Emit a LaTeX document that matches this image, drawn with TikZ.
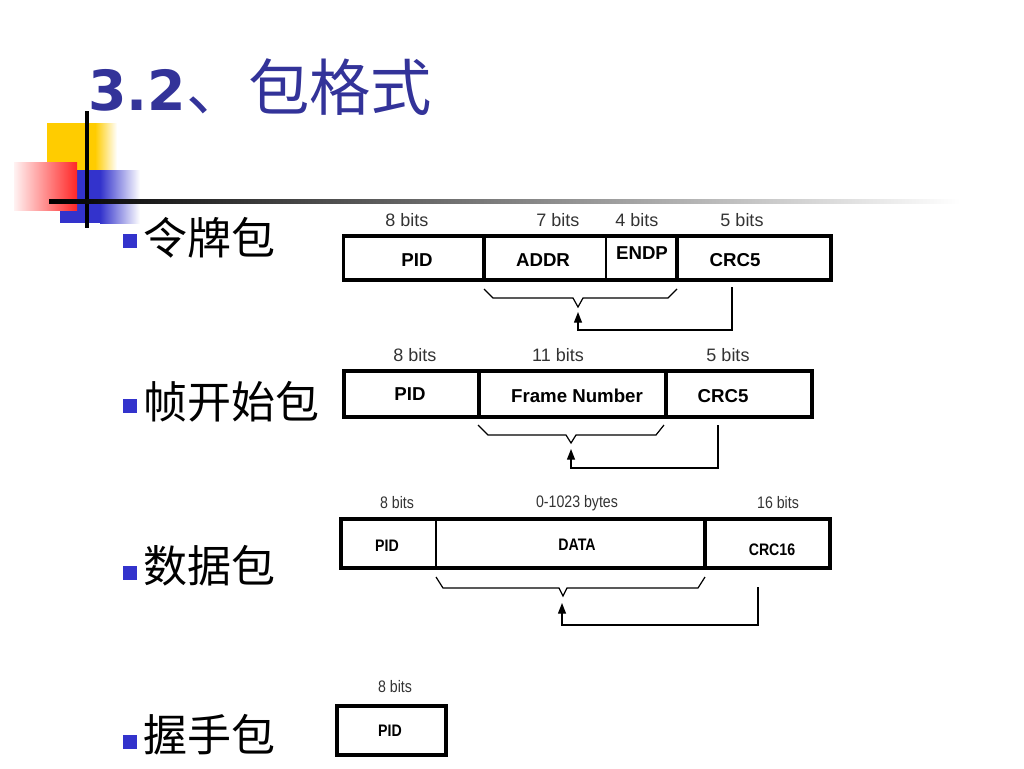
\documentclass[tikz,border=0pt]{standalone}
\usepackage{fontspec}
\setmainfont{Liberation Sans}
\newfontfamily\cjk{Noto Sans CJK SC}
\newfontfamily\verdanafont{DejaVu Sans}
\newfontfamily\narrowfont[FakeStretch=0.85]{Liberation Sans}
\usetikzlibrary{arrows.meta}
\definecolor{titleblue}{RGB}{51,51,153}
\definecolor{bulletblue}{RGB}{51,51,204}
\definecolor{decoyellow}{RGB}{255,204,0}
\tikzset{
  bits/.style={inner sep=0.75pt, text=black!80, font=\fontsize{13.5}{15}\selectfont},
  field/.style={inner sep=0.75pt, font=\bfseries\fontsize{14}{16}\selectfont},
  nbits/.style={inner sep=0.75pt, text=black!80, font=\narrowfont\fontsize{12.5}{14}\selectfont},
  nfield/.style={inner sep=0.75pt, font=\narrowfont\bfseries\fontsize{12.5}{14}\selectfont},
  pktframe/.style={line width=2.8pt},
  thickdiv/.style={line width=2.6pt},
  thindiv/.style={line width=1.5pt},
  brc/.style={line width=0.9pt},
  fb/.style={line width=0.9pt, -{Triangle[width=6pt,length=8pt]}},
  bullet/.style={fill=bulletblue, inner sep=0pt, minimum size=10pt},
  item/.style={anchor=west, inner sep=0pt, font=\cjk\fontsize{33}{36}\selectfont},
}
\begin{document}
\begin{tikzpicture}[x=0.75pt,y=0.75pt,yscale=-1,xscale=1]
\useasboundingbox (0,0) rectangle (1024,768);
% corner decoration
\fill[decoyellow] (47,123) rectangle (95,170);
\shade[left color=decoyellow, right color=white] (95,123) rectangle (117,170);
\fill[bulletblue] (60,170) rectangle (100,223);
\shade[left color=bulletblue, right color=white] (100,170) rectangle (140,223);
\shade[left color=red!5, right color=red!85] (14,162) rectangle (77,210);
\draw[line width=2.6pt] (87,111) -- (87,228);
\shade[left color=black, middle color=black!50, right color=white] (49,199) rectangle (960,203);
% title
\node[anchor=base west, inner sep=0pt, text=titleblue, font=\verdanafont\bfseries\fontsize{41.5}{50}\selectfont] (num) at (88,110) {3.2};
\node[anchor=base west, inner sep=0pt, text=titleblue, font=\cjk\fontsize{46}{50}\selectfont] (title) at (num.base east) {、包格式};
% items
\node[bullet] (b1) at (130,241) {};
\node[item] (t1) at (143,238) {令牌包};
\node[bullet] (b2) at (130,406) {};
\node[item] (t2) at (143,402) {帧开始包};
\node[bullet] (b3) at (130,573) {};
\node[item] (t3) at (143,566) {数据包};
\node[bullet] (b4) at (130,742) {};
\node[item] (t4) at (143,735) {握手包};
% token packet
\draw[pktframe] (343.5,236) rectangle (831,280);
\draw[thickdiv] (484,236) -- (484,280);
\draw[thindiv] (606,236) -- (606,280);
\draw[thickdiv] (677,236) -- (677,280);
\node[bits] (tb1) at (407,220) {8 bits};
\node[bits] (tb2) at (558,220) {7 bits};
\node[bits] (tb3) at (637,220) {4 bits};
\node[bits] (tb4) at (742,220) {5 bits};
\node[field] (tpid) at (417,260) {PID};
\node[field] (taddr) at (543,260) {ADDR};
\node[field] (tendp) at (642,253) {ENDP};
\node[field] (tcrc) at (735,260) {CRC5};
\coordinate (tv) at (578,312);
\coordinate (tc) at (732,287);
\draw[brc] (484,289) -- (493,298) -- (573,298) -- (578,307) -- (583,298) -- (668,298) -- (677,289);
\draw[fb] (tc) -- (732,330) -- (578,330) -- (tv);
% start of frame packet
\draw[pktframe] (343.7,370.7) rectangle (812.3,417.3);
\draw[thickdiv] (479,370.7) -- (479,417.3);
\draw[thickdiv] (666,370.7) -- (666,417.3);
\node[bits] (sb1) at (415,355) {8 bits};
\node[bits] (sb2) at (558,355) {11 bits};
\node[bits] (sb3) at (728,355) {5 bits};
\node[field] (spid) at (410,394) {PID};
\node[field] (sfn) at (577,396) {Frame Number};
\node[field] (scrc) at (723,396) {CRC5};
\coordinate (sv) at (571,449);
\coordinate (sc) at (718,425);
\draw[brc] (478,425) -- (488,435) -- (566,435) -- (571,443) -- (576,435) -- (656,435) -- (664,425);
\draw[fb] (sc) -- (718,468) -- (571,468) -- (sv);
% data packet
\draw[pktframe] (341,519) rectangle (830,568);
\draw[thindiv] (436,519) -- (436,568);
\draw[thickdiv] (705,519) -- (705,568);
\node[nbits] (db1) at (397,503) {8 bits};
\node[nbits] (db2) at (577,503) {0-1023 bytes};
\node[nbits] (db3) at (778,503) {16 bits};
\node[nfield] (dpid) at (387,546) {PID};
\node[nfield] (ddata) at (577,545) {DATA};
\node[nfield] (dcrc) at (772,550) {CRC16};
\coordinate (dv) at (562,603);
\coordinate (dc) at (758,587);
\draw[brc] (436,577) -- (443,588) -- (559,588) -- (563,596) -- (567,588) -- (698,588) -- (705,577);
\draw[fb] (dc) -- (758,625) -- (562,625) -- (dv);
% handshake packet
\draw[pktframe] (337,706) rectangle (446,755);
\node[nbits] (hb1) at (395,687) {8 bits};
\node[nfield] (hpid) at (390,731) {PID};
\end{tikzpicture}
\end{document}
